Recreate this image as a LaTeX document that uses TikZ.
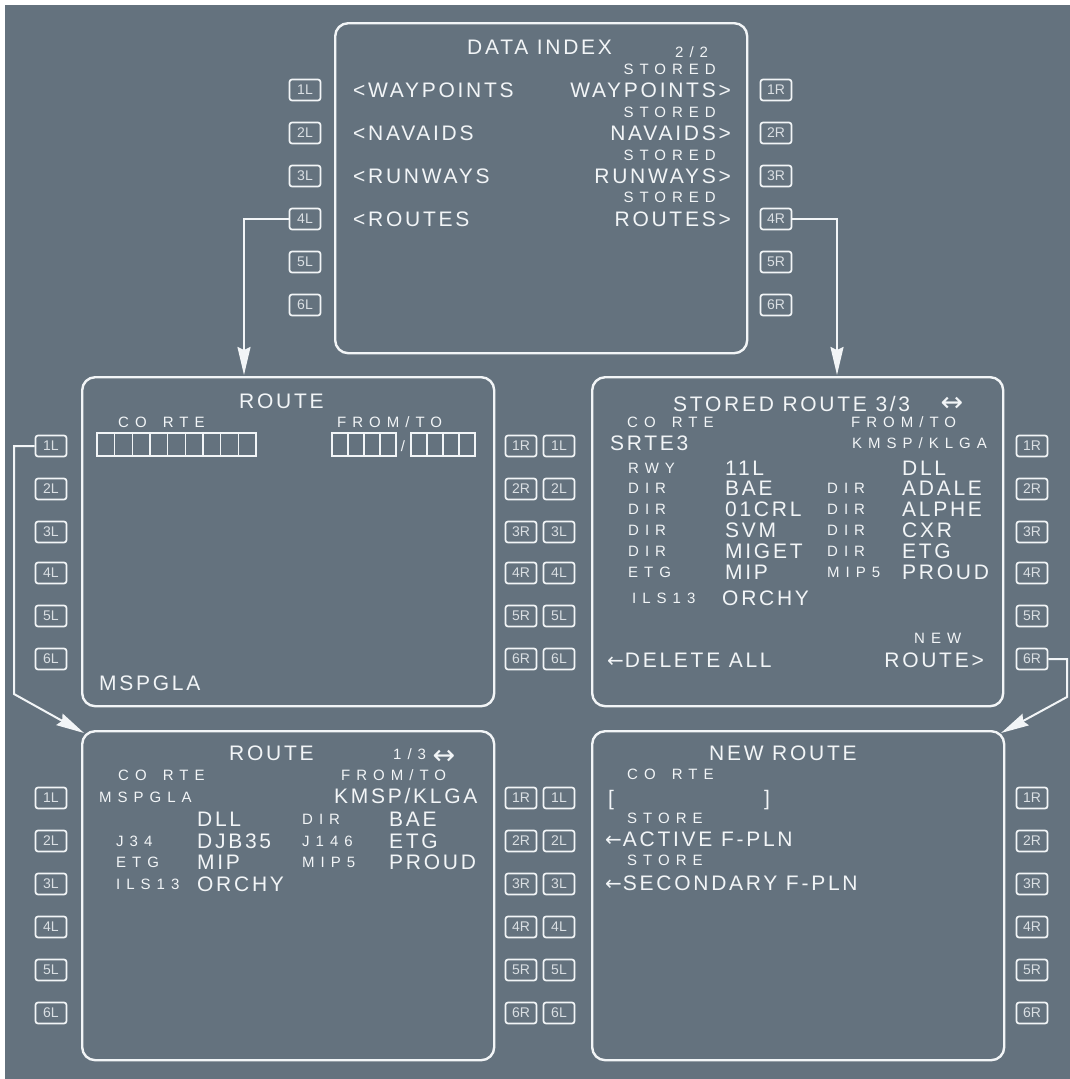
\documentclass[tikz,border=0pt]{standalone}
\usepackage{fontspec}
\setmainfont{Liberation Sans}
\newfontfamily\bigfont[LetterSpace=13]{Liberation Sans}
\newfontfamily\smallfont[LetterSpace=40]{Liberation Sans}
\newfontfamily\symfont{DejaVu Sans}
\usetikzlibrary{arrows.meta}
\definecolor{bg}{RGB}{100,114,126}
\definecolor{fg}{RGB}{242,245,247}
\definecolor{kt}{RGB}{218,223,227}
\newcommand{\larr}{{\symfont\fontsize{20}{20}\selectfont ←}}
\newcommand{\cortegap}{CO\hspace{6pt} RTE}
\begin{document}
\begin{tikzpicture}[x=1pt,y=-1pt,
  screen/.style={draw=fg,line width=2.4pt,rounded corners=13pt,anchor=north west,inner sep=0pt,minimum width=412pt,minimum height=329pt},
  lsk/.style={draw=fg,line width=1.7pt,rounded corners=2.5pt,minimum width=31pt,minimum height=21pt,inner sep=0pt,text=kt,font=\fontsize{14}{14}\selectfont},
  bt/.style={text=fg,inner sep=0pt,anchor=base west,font=\bigfont\fontsize{21}{21}\selectfont},
  st/.style={text=fg,inner sep=0pt,anchor=base west,font=\smallfont\fontsize{15}{15}\selectfont},
  arrsym/.style={text=fg,inner sep=0pt,font=\symfont\fontsize{27}{27}\selectfont},
  cell/.style={draw=fg,line width=1.3pt},
  conn/.style={draw=fg,line width=2pt},
  arr/.style={conn,-{Stealth[length=28pt,width=13pt,inset=3pt]}},
]
\useasboundingbox (0,0) rectangle (1070,1079);
\fill[white] (0,0) rectangle (1070,1079);
\fill[bg] (5,5) rectangle (1070,1079);

% ---------- screens ----------
\node[screen,minimum height=330pt] (top) at (334,22) {};
\node[screen] (ml) at (81,376) {};
\node[screen,minimum width=411pt] (mr) at (591,376) {};
\node[screen] (bl) at (81,730) {};
\node[screen] (br) at (591,730) {};

% ---------- keys ----------
\foreach \i/\y in {1/90,2/133,3/176,4/219,5/262,6/305}{
  \node[lsk] (tL\i) at (305,\y) {\i L};
  \node[lsk] (tR\i) at (776,\y) {\i R};
}
\foreach \i/\y in {1/446,2/489,3/532,4/573,5/616,6/659}{
  \node[lsk] (mL\i) at (51,\y) {\i L};
  \node[lsk] (mcR\i) at (521,\y) {\i R};
  \node[lsk] (mcL\i) at (559,\y) {\i L};
  \node[lsk] (mR\i) at (1032,\y) {\i R};
}
\foreach \i/\y in {1/798,2/841,3/884,4/927,5/970,6/1013}{
  \node[lsk] (bL\i) at (51,\y) {\i L};
  \node[lsk] (bcR\i) at (521,\y) {\i R};
  \node[lsk] (bcL\i) at (559,\y) {\i L};
  \node[lsk] (bR\i) at (1032,\y) {\i R};
}

% ---------- connectors ----------
\coordinate (e1) at (244,375);
\draw[arr] (tL4.west) -| (e1);
\coordinate (e2) at (837,375);
\draw[arr] (tR4.east) -| (e2);
\coordinate (c3) at (14,694);
\coordinate (e3) at (84,733);
\draw[arr] (mL1.west) -| (c3) -- (e3);
\coordinate (c4) at (1067,697);
\coordinate (e4) at (1001,733);
\draw[arr] (mR6.east) -| (c4) -- (e4);

% ---------- DATA INDEX ----------
\node[bt] (diT) at (467,54.5) {DATA INDEX};
\node[st] (diP) at (675,57.3) {2/2};
\node[bt] (diL1) at (353,97.5) {<WAYPOINTS};
\node[bt] (diL2) at (353,140.5) {<NAVAIDS};
\node[bt] (diL3) at (353,183.5) {<RUNWAYS};
\node[bt] (diL4) at (353,226.5) {<ROUTES};
\node[bt,anchor=base east] (diR1) at (731,97.5) {WAYPOINTS>};
\node[bt,anchor=base east] (diR2) at (731,140.5) {NAVAIDS>};
\node[bt,anchor=base east] (diR3) at (731,183.5) {RUNWAYS>};
\node[bt,anchor=base east] (diR4) at (731,226.5) {ROUTES>};
\node[st,anchor=base east] (diS1) at (716,74.3) {STORED};
\node[st,anchor=base east] (diS2) at (716,117.3) {STORED};
\node[st,anchor=base east] (diS3) at (716,160.3) {STORED};
\node[st,anchor=base east] (diS4) at (716,202.3) {STORED};

% ---------- ROUTE (empty) ----------
\node[bt] (mlT) at (239,408.5) {ROUTE};
\node[st] (mlC) at (118,427.5) {\cortegap};
\node[st] (mlF) at (337,427.5) {FROM/TO};
\foreach \k in {0,...,8}{
  \draw[cell] ({97+\k*17.67},433) rectangle ({97+(\k+1)*17.67},456);
}
\foreach \k in {0,...,3}{
  \draw[cell] ({332+\k*16},433) rectangle ({332+(\k+1)*16},456);
  \draw[cell] ({411+\k*16},433) rectangle ({411+(\k+1)*16},456);
}
\node[text=fg,inner sep=0pt,font=\fontsize{15}{15}\selectfont] (mlS) at (403,446) {/};
\node[bt] (mlM) at (99,690) {MSPGLA};

% ---------- STORED ROUTE ----------
\node[bt] (mrT) at (673,411.5) {STORED ROUTE 3/3};
\node[arrsym] (mrA) at (952,404) {↔};
\node[st] (mrC) at (627,427.5) {\cortegap};
\node[st] (mrF) at (851,427.5) {FROM/TO};
\node[bt] (mrN) at (610,450.5) {SRTE3};
\node[st] (mrK) at (852,448.5) {KMSP/KLGA};
\node[st] (r1a) at (628,473.3) {RWY};
\node[bt] (r1b) at (725,475.5) {11L};
\node[bt] (r1d) at (902,475.5) {DLL};
\node[st] (r2a) at (628,493.3) {DIR};
\node[bt] (r2b) at (725,495.5) {BAE};
\node[st] (r2c) at (827,493.3) {DIR};
\node[bt] (r2d) at (902,495.5) {ADALE};
\node[st] (r3a) at (628,514.3) {DIR};
\node[bt] (r3b) at (725,516.5) {01CRL};
\node[st] (r3c) at (827,514.3) {DIR};
\node[bt] (r3d) at (902,516.5) {ALPHE};
\node[st] (r4a) at (628,535.3) {DIR};
\node[bt] (r4b) at (725,537.5) {SVM};
\node[st] (r4c) at (827,535.3) {DIR};
\node[bt] (r4d) at (902,537.5) {CXR};
\node[st] (r5a) at (628,556.3) {DIR};
\node[bt] (r5b) at (725,558.5) {MIGET};
\node[st] (r5c) at (827,556.3) {DIR};
\node[bt] (r5d) at (902,558.5) {ETG};
\node[st] (r6a) at (628,577.3) {ETG};
\node[bt] (r6b) at (725,579.5) {MIP};
\node[st] (r6c) at (827,577.3) {MIP5};
\node[bt] (r6d) at (902,579.5) {PROUD};
\node[st] (r7a) at (632,603.3) {ILS13};
\node[bt] (r7b) at (722,605.5) {ORCHY};
\node[st] (mrNew) at (914,643.3) {NEW};
\node[bt] (mrDel) at (607,667.5) {\larr\hspace{1pt}DELETE ALL};
\node[bt,anchor=base east] (mrRte) at (984,667.5) {ROUTE>};

% ---------- ROUTE 1/3 ----------
\node[bt] (blT) at (229,760.5) {ROUTE};
\node[st] (blP) at (393,759.3) {1/3};
\node[arrsym] (blA) at (444,757) {↔};
\node[st] (blC) at (118,780.3) {\cortegap};
\node[st] (blF) at (341,780.3) {FROM/TO};
\node[st] (blN) at (99,802.3) {MSPGLA};
\node[bt] (blK) at (334,803.5) {KMSP/KLGA};
\node[bt] (q1b) at (197,826.5) {DLL};
\node[st] (q1c) at (302,824.3) {DIR};
\node[bt] (q1d) at (389,826.5) {BAE};
\node[st] (q2a) at (116,846.3) {J34};
\node[bt] (q2b) at (197,848.5) {DJB35};
\node[st] (q2c) at (302,846.3) {J146};
\node[bt] (q2d) at (389,848.5) {ETG};
\node[st] (q3a) at (116,867.3) {ETG};
\node[bt] (q3b) at (197,869.5) {MIP};
\node[st] (q3c) at (302,867.3) {MIP5};
\node[bt] (q3d) at (389,869.5) {PROUD};
\node[st] (q4a) at (116,889.3) {ILS13};
\node[bt] (q4b) at (197,891.5) {ORCHY};

% ---------- NEW ROUTE ----------
\node[bt] (brT) at (709,760.5) {NEW ROUTE};
\node[st] (brC) at (627,779.5) {\cortegap};
\node[text=fg,inner sep=0pt,font=\fontsize{21}{21}\selectfont] (brB1) at (611,800) {[};
\node[text=fg,inner sep=0pt,font=\fontsize{21}{21}\selectfont] (brB2) at (767,800) {]};
\node[st] (brS1) at (627,823.3) {STORE};
\node[bt] (brA) at (605,846.5) {\larr\hspace{1pt}ACTIVE F-PLN};
\node[st] (brS2) at (627,865.3) {STORE};
\node[bt] (brS) at (605,890.5) {\larr\hspace{1pt}SECONDARY F-PLN};
\end{tikzpicture}
\end{document}
